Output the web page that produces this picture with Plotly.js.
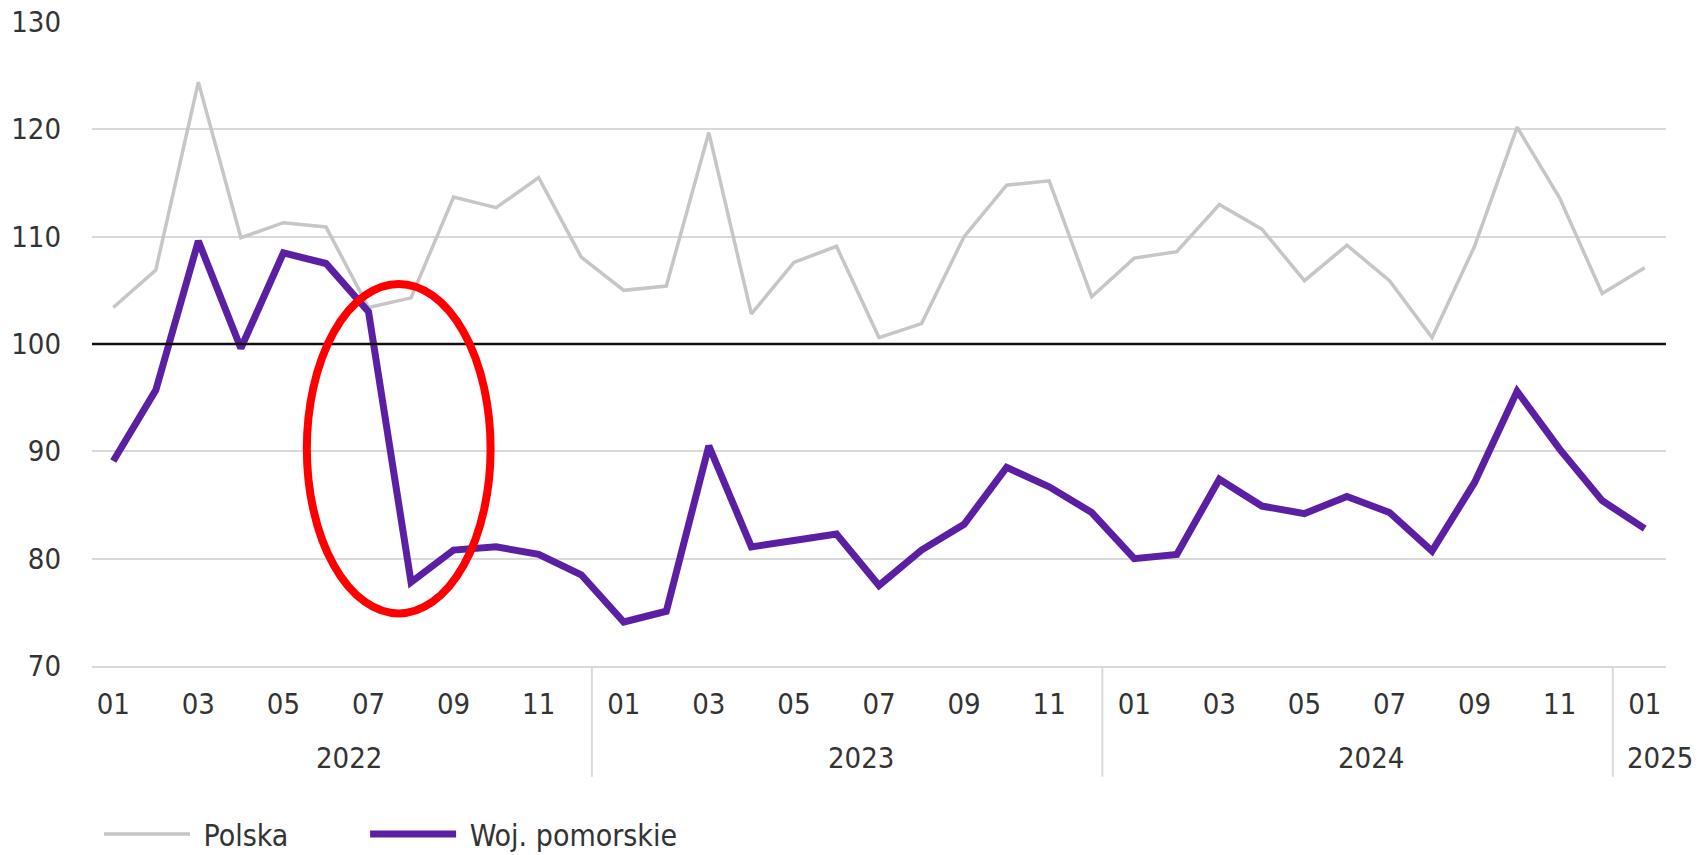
<!DOCTYPE html>
<html>
<head>
<meta charset="utf-8">
<script src="https://cdn.plot.ly/plotly-3.0.1.min.js"></script>
<style>
html,body{margin:0;padding:0;background:#fff;}
#chart{width:1704px;height:855px;}
</style>
</head>
<body>
<div id="chart"></div>
<script>
// Months Jan 2022 .. Jan 2025 (index 0..36)
const monthLabels = ["01","02","03","04","05","06","07","08","09","10","11","12",
                     "01","02","03","04","05","06","07","08","09","10","11","12",
                     "01","02","03","04","05","06","07","08","09","10","11","12",
                     "01"];
const years = ["2022","2023","2024","2025"];
const yearCenters = [5.54, 17.57, 29.56, 36.36];
const yearSeparators = [11.25, 23.25, 35.25];

const polska = [103.4,106.9,124.4,109.9,111.3,110.9,103.4,104.3,113.7,112.7,115.5,108.1,
                105.0,105.4,119.7,102.8,107.6,109.1,100.6,101.9,110.0,114.8,115.2,104.4,
                108.0,108.6,113.0,110.7,105.9,109.2,105.9,100.6,109.1,120.2,113.6,104.7,
                107.1];
const pomorskie = [89.1,95.7,109.6,99.6,108.5,107.5,103.0,77.8,80.8,81.1,80.4,78.5,
                   74.1,75.1,90.5,81.1,81.7,82.3,77.5,80.8,83.2,88.5,86.7,84.3,
                   80.0,80.4,87.4,84.9,84.2,85.8,84.3,80.7,87.1,95.6,90.2,85.4,
                   82.8];
const yTicks = [70,80,90,100,110,120,130];
const gridTicks = [70,80,90,110,120,130];
const seriesNames = ["Polska", "Woj. pomorskie"];

const idx = monthLabels.map((_, i) => i);
const tickIdx = idx.filter(i => i % 2 === 0);
const tickTxt = tickIdx.map(i => monthLabels[i]);

const FONT = "DejaVu Sans Condensed, DejaVu Sans, sans-serif";
const TXT = "#333333";
const FS = 29;

const traces = [
  {x: idx, y: polska, name: "\u00a0" + seriesNames[0], type: "scatter", mode: "lines",
   line: {color: "#c6c6c6", width: 3.5}, legend: "legend"},
  {x: idx, y: pomorskie, name: "\u00a0" + seriesNames[1], type: "scatter", mode: "lines",
   line: {color: "#5b1fa3", width: 7}, legend: "legend2"}
];

const shapes = [
  {type: "line", xref: "paper", yref: "y", x0: 0, x1: 1, y0: 100, y1: 100,
   line: {color: "#111111", width: 2.5}, layer: "above"},
  {type: "circle", xref: "x", yref: "y", x0: 4.55, x1: 8.87, y0: 74.9, y1: 105.6,
   line: {color: "#ff0000", width: 8}, layer: "above"}
];
yearSeparators.forEach(s => shapes.push({
  type: "line", xref: "x", yref: "paper", x0: s, x1: s, y0: 0, y1: -0.172,
  line: {color: "#d9d9d9", width: 2}
}));

const annotations = years.map((t, i) => ({
  text: t, xref: "x", yref: "paper", x: yearCenters[i], y: -0.143,
  xanchor: "center", yanchor: "middle", showarrow: false,
  font: {family: FONT, size: FS, color: TXT}
}));

const legendBase = {orientation: "h", xanchor: "left", y: -0.261, yanchor: "middle",
                    itemwidth: 86, bgcolor: "rgba(0,0,0,0)",
                    font: {family: FONT, size: 30, color: TXT}};

const layout = {
  width: 1704, height: 855,
  margin: {l: 92, r: 38, t: 22, b: 189, autoexpand: false},
  paper_bgcolor: "#fff", plot_bgcolor: "#fff",
  showlegend: true,
  legend: Object.assign({}, legendBase, {x: 0.0044}),
  legend2: Object.assign({}, legendBase, {x: 0.1735}),
  xaxis: {range: [-0.5, 36.5], tickvals: tickIdx, ticktext: tickTxt,
          showgrid: false, zeroline: false, showline: true, linecolor: "#d9d9d9", linewidth: 2,
          ticks: "", ticklabelstandoff: 11,
          tickfont: {family: FONT, size: FS, color: TXT}, fixedrange: true},
  yaxis: {range: [70, 130], tickvals: yTicks, showgrid: true, gridcolor: "#d9d9d9", gridwidth: 2,
          zeroline: false, showline: false, ticks: "", ticklabelstandoff: 30,
          tickfont: {family: FONT, size: FS, color: TXT}, fixedrange: true},
  shapes: shapes,
  annotations: annotations
};

Plotly.newPlot("chart", traces, layout, {displayModeBar: false, staticPlot: true});
</script>
</body>
</html>
